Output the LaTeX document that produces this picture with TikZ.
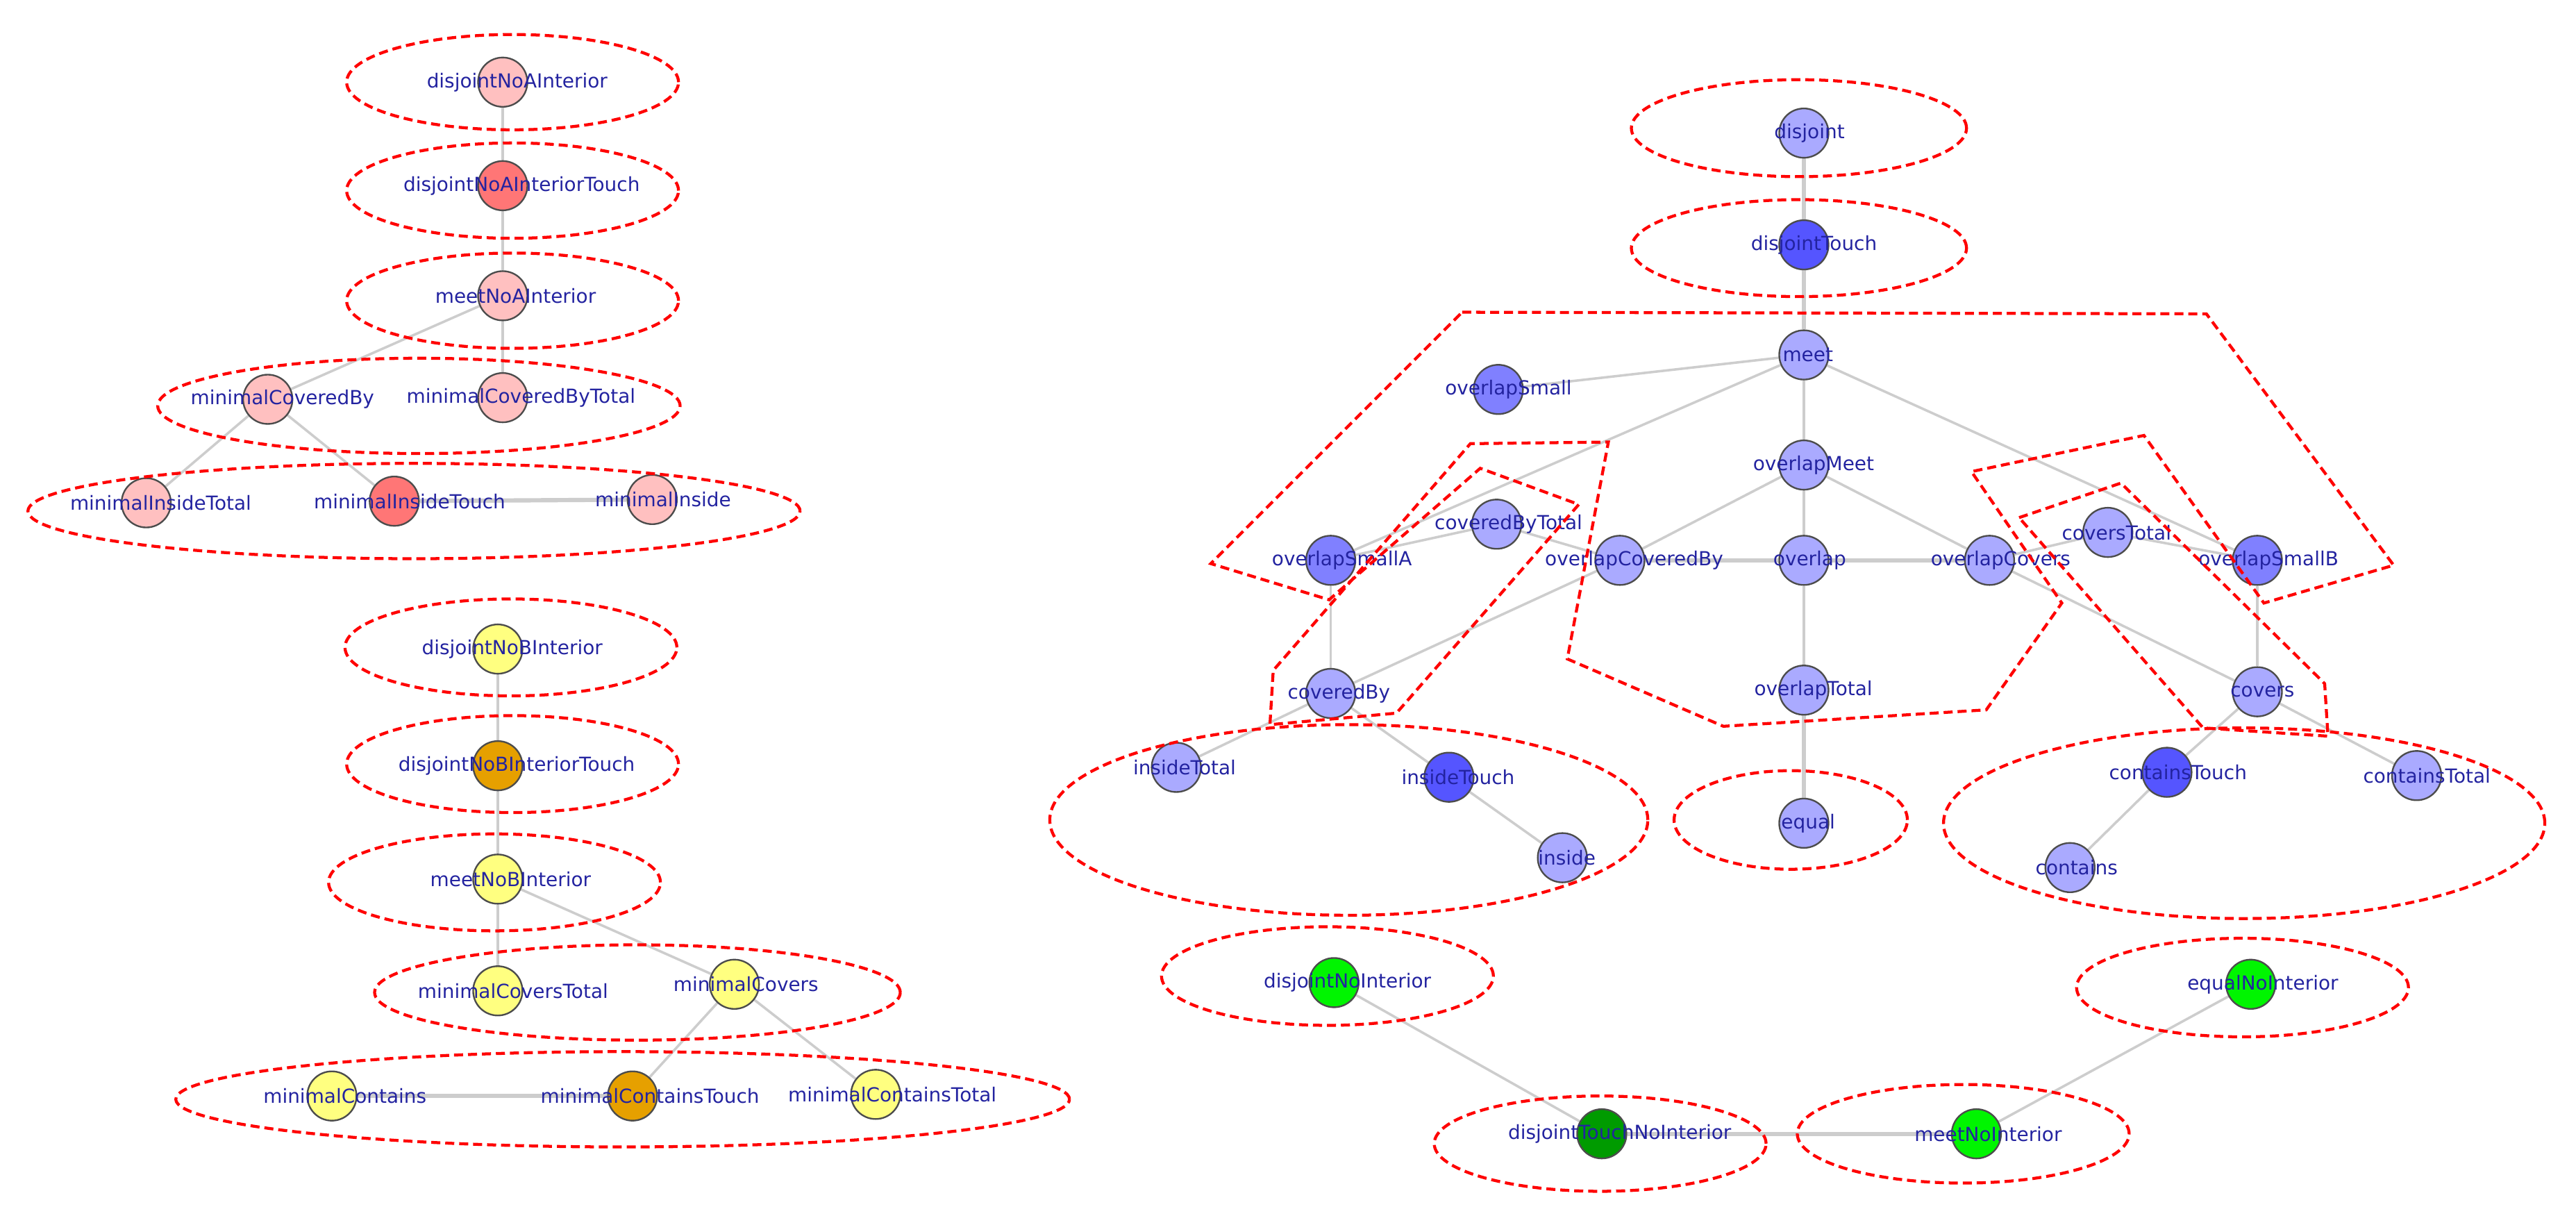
\documentclass[tikz,border=0pt]{standalone}
\usepackage{fontspec}
\setmainfont{DejaVu Sans}
\usepackage{tikz}
\usetikzlibrary{backgrounds}
\definecolor{aLight}{RGB}{255,192,192}
\definecolor{aDark}{RGB}{255,118,118}
\definecolor{bLight}{RGB}{255,255,128}
\definecolor{bDark}{RGB}{230,160,0}
\definecolor{cLight}{RGB}{170,170,255}
\definecolor{cMid}{RGB}{128,128,255}
\definecolor{cDark}{RGB}{85,85,255}
\definecolor{gLight}{RGB}{0,245,0}
\definecolor{gDark}{RGB}{0,155,0}
\definecolor{lblblue}{RGB}{35,35,160}
\definecolor{linkgray}{RGB}{205,205,205}
\tikzstyle{rel} = [circle, draw=black!70, line width=1pt, minimum size=30pt, inner sep=0pt]
\tikzstyle{aL} = [rel, fill=aLight]
\tikzstyle{aD} = [rel, fill=aDark]
\tikzstyle{bL} = [rel, fill=bLight]
\tikzstyle{bD} = [rel, fill=bDark]
\tikzstyle{cL} = [rel, fill=cLight]
\tikzstyle{cM} = [rel, fill=cMid]
\tikzstyle{cD} = [rel, fill=cDark]
\tikzstyle{gL} = [rel, fill=gLight]
\tikzstyle{gD} = [rel, fill=gDark]
\tikzstyle{lbl} = [font=\fontsize{11.8}{14}\selectfont, text=lblblue, inner sep=0pt]
\tikzstyle{link} = [draw=linkgray, line width=1.5pt]
\tikzstyle{dbl} = [draw=linkgray, line width=2.6pt]
\tikzstyle{grp} = [draw=red, line width=1.8pt, dash pattern=on 5.5pt off 3pt]
\newlength{\lblwd}
\newcommand{\lbltext}[1]{\settowidth{\lblwd}{#1}\hspace*{0.16\lblwd}#1}

\begin{document}
\begin{tikzpicture}[x=1pt, y=-1pt]
                    \useasboundingbox (0,0) rectangle (1568,740);
                    % relations without interior of A
                    \node [aL] (disjointNoAInterior) at (306,50) {};
                    \node [aD] (disjointNoAInteriorTouch) at (306,113) {};
                    \node [aL] (meetNoAInterior) at (306,180) {};
                    \node [aL] (minimalCoveredBy) at (163,243) {};
                    \node [aL] (minimalCoveredByTotal) at (306,242) {};
                    \node [aL] (minimalInsideTotal) at (89,306) {};
                    \node [aD] (minimalInsideTouch) at (240,305) {};
                    \node [aL] (minimalInside) at (397,304) {};
                    % relations without interior of B
                    \node [bL] (disjointNoBInterior) at (303,395) {};
                    \node [bD] (disjointNoBInteriorTouch) at (303,466) {};
                    \node [bL] (meetNoBInterior) at (303,535) {};
                    \node [bL] (minimalCoversTotal) at (303,603) {};
                    \node [bL] (minimalCovers) at (447,599) {};
                    \node [bL] (minimalContains) at (202,667) {};
                    \node [bD] (minimalContainsTouch) at (385,667) {};
                    \node [bL] (minimalContainsTotal) at (533,666) {};
                    % relations with both interiors
                    \node [cL] (disjoint) at (1098,81) {};
                    \node [cD] (disjointTouch) at (1098,149) {};
                    \node [cL] (meet) at (1098,216) {};
                    \node [cM] (overlapSmall) at (912,237) {};
                    \node [cL] (overlapMeet) at (1098,283) {};
                    \node [cL] (coveredByTotal) at (911,319) {};
                    \node [cM] (overlapSmallA) at (810,341) {};
                    \node [cL] (overlapCoveredBy) at (986,341) {};
                    \node [cL] (overlap) at (1098,341) {};
                    \node [cL] (overlapCovers) at (1211,341) {};
                    \node [cL] (coversTotal) at (1283,324) {};
                    \node [cM] (overlapSmallB) at (1374,341) {};
                    \node [cL] (coveredBy) at (810,422) {};
                    \node [cL] (overlapTotal) at (1098,420) {};
                    \node [cL] (covers) at (1374,421) {};
                    \node [cL] (insideTotal) at (716,467) {};
                    \node [cD] (insideTouch) at (882,473) {};
                    \node [cL] (inside) at (951,522) {};
                    \node [cL] (equal) at (1098,501) {};
                    \node [cD] (containsTouch) at (1319,470) {};
                    \node [cL] (containsTotal) at (1471,472) {};
                    \node [cL] (contains) at (1260,528) {};
                    % relations without any interior
                    \node [gL] (disjointNoInterior) at (812,598) {};
                    \node [gD] (disjointTouchNoInterior) at (975,690) {};
                    \node [gL] (meetNoInterior) at (1203,690) {};
                    \node [gL] (equalNoInterior) at (1370,599) {};

                    \begin{scope}[on background layer]
                    \draw [link] (disjointNoAInterior) -- (disjointNoAInteriorTouch);
                    \draw [link] (disjointNoAInteriorTouch) -- (meetNoAInterior);
                    \draw [link] (meetNoAInterior) -- (minimalCoveredByTotal);
                    \draw [link] (meetNoAInterior) -- (minimalCoveredBy);
                    \draw [link] (minimalCoveredBy) -- (minimalInsideTotal);
                    \draw [link] (minimalCoveredBy) -- (minimalInsideTouch);
                    \draw [dbl] (minimalInsideTouch) -- (minimalInside);
                    \draw [link] (disjointNoBInterior) -- (disjointNoBInteriorTouch);
                    \draw [link] (disjointNoBInteriorTouch) -- (meetNoBInterior);
                    \draw [link] (meetNoBInterior) -- (minimalCoversTotal);
                    \draw [link] (meetNoBInterior) -- (minimalCovers);
                    \draw [link] (minimalCovers) -- (minimalContainsTouch);
                    \draw [link] (minimalCovers) -- (minimalContainsTotal);
                    \draw [dbl] (minimalContains) -- (minimalContainsTouch);
                    \draw [dbl] (disjoint) -- (disjointTouch);
                    \draw [dbl] (disjointTouch) -- (meet);
                    \draw [link] (meet) -- (overlapSmall);
                    \draw [link] (meet) -- (overlapMeet);
                    \draw [link] (meet) -- (overlapSmallA);
                    \draw [link] (meet) -- (overlapSmallB);
                    \draw [link] (overlapSmallA) -- (coveredByTotal);
                    \draw [link] (coveredByTotal) -- (overlapCoveredBy);
                    \draw [link] (overlapSmallA) -- (coveredBy);
                    \draw [link] (coveredBy) -- (overlapCoveredBy);
                    \draw [link] (overlapMeet) -- (overlapCoveredBy);
                    \draw [link] (overlapMeet) -- (overlap);
                    \draw [link] (overlapMeet) -- (overlapCovers);
                    \draw [dbl] (overlapCoveredBy) -- (overlap);
                    \draw [dbl] (overlap) -- (overlapCovers);
                    \draw [link] (overlap) -- (overlapTotal);
                    \draw [dbl] (overlapTotal) -- (equal);
                    \draw [link] (overlapCovers) -- (coversTotal);
                    \draw [link] (coversTotal) -- (overlapSmallB);
                    \draw [link] (overlapSmallB) -- (covers);
                    \draw [link] (overlapCovers) -- (covers);
                    \draw [link] (coveredBy) -- (insideTotal);
                    \draw [link] (coveredBy) -- (insideTouch);
                    \draw [link] (insideTouch) -- (inside);
                    \draw [link] (covers) -- (containsTouch);
                    \draw [link] (covers) -- (containsTotal);
                    \draw [link] (containsTouch) -- (contains);
                    \draw [link] (disjointNoInterior) -- (disjointTouchNoInterior);
                    \draw [dbl] (disjointTouchNoInterior) -- (meetNoInterior);
                    \draw [link] (meetNoInterior) -- (equalNoInterior);
                    \end{scope}

                    % labels
                    \node [lbl] (disjointNoAInteriorL) at (disjointNoAInterior) {\lbltext{disjointNoAInterior}};
                    \node [lbl] (disjointNoAInteriorTouchL) at (disjointNoAInteriorTouch) {\lbltext{disjointNoAInteriorTouch}};
                    \node [lbl] (meetNoAInteriorL) at (meetNoAInterior) {\lbltext{meetNoAInterior}};
                    \node [lbl] (minimalCoveredByL) at (minimalCoveredBy) {\lbltext{minimalCoveredBy}};
                    \node [lbl] (minimalCoveredByTotalL) at (minimalCoveredByTotal) {\lbltext{minimalCoveredByTotal}};
                    \node [lbl] (minimalInsideTotalL) at (minimalInsideTotal) {\lbltext{minimalInsideTotal}};
                    \node [lbl] (minimalInsideTouchL) at (minimalInsideTouch) {\lbltext{minimalInsideTouch}};
                    \node [lbl] (minimalInsideL) at (minimalInside) {\lbltext{minimalInside}};
                    \node [lbl] (disjointNoBInteriorL) at (disjointNoBInterior) {\lbltext{disjointNoBInterior}};
                    \node [lbl] (disjointNoBInteriorTouchL) at (disjointNoBInteriorTouch) {\lbltext{disjointNoBInteriorTouch}};
                    \node [lbl] (meetNoBInteriorL) at (meetNoBInterior) {\lbltext{meetNoBInterior}};
                    \node [lbl] (minimalCoversTotalL) at (minimalCoversTotal) {\lbltext{minimalCoversTotal}};
                    \node [lbl] (minimalCoversL) at (minimalCovers) {\lbltext{minimalCovers}};
                    \node [lbl] (minimalContainsL) at (minimalContains) {\lbltext{minimalContains}};
                    \node [lbl] (minimalContainsTouchL) at (minimalContainsTouch) {\lbltext{minimalContainsTouch}};
                    \node [lbl] (minimalContainsTotalL) at (minimalContainsTotal) {\lbltext{minimalContainsTotal}};
                    \node [lbl] (disjointL) at (disjoint) {\lbltext{disjoint}};
                    \node [lbl] (disjointTouchL) at (disjointTouch) {\lbltext{disjointTouch}};
                    \node [lbl] (meetL) at (meet) {\lbltext{meet}};
                    \node [lbl] (overlapSmallL) at (overlapSmall) {\lbltext{overlapSmall}};
                    \node [lbl] (overlapMeetL) at (overlapMeet) {\lbltext{overlapMeet}};
                    \node [lbl] (coveredByTotalL) at (coveredByTotal) {\lbltext{coveredByTotal}};
                    \node [lbl] (overlapSmallAL) at (overlapSmallA) {\lbltext{overlapSmallA}};
                    \node [lbl] (overlapCoveredByL) at (overlapCoveredBy) {\lbltext{overlapCoveredBy}};
                    \node [lbl] (overlapL) at (overlap) {\lbltext{overlap}};
                    \node [lbl] (overlapCoversL) at (overlapCovers) {\lbltext{overlapCovers}};
                    \node [lbl] (coversTotalL) at (coversTotal) {\lbltext{coversTotal}};
                    \node [lbl] (overlapSmallBL) at (overlapSmallB) {\lbltext{overlapSmallB}};
                    \node [lbl] (coveredByL) at (coveredBy) {\lbltext{coveredBy}};
                    \node [lbl] (overlapTotalL) at (overlapTotal) {\lbltext{overlapTotal}};
                    \node [lbl] (coversL) at (covers) {\lbltext{covers}};
                    \node [lbl] (insideTotalL) at (insideTotal) {\lbltext{insideTotal}};
                    \node [lbl] (insideTouchL) at (insideTouch) {\lbltext{insideTouch}};
                    \node [lbl] (insideL) at (inside) {\lbltext{inside}};
                    \node [lbl] (equalL) at (equal) {\lbltext{equal}};
                    \node [lbl] (containsTouchL) at (containsTouch) {\lbltext{containsTouch}};
                    \node [lbl] (containsTotalL) at (containsTotal) {\lbltext{containsTotal}};
                    \node [lbl] (containsL) at (contains) {\lbltext{contains}};
                    \node [lbl] (disjointNoInteriorL) at (disjointNoInterior) {\lbltext{disjointNoInterior}};
                    \node [lbl] (disjointTouchNoInteriorL) at (disjointTouchNoInterior) {\lbltext{disjointTouchNoInterior}};
                    \node [lbl] (meetNoInteriorL) at (meetNoInterior) {\lbltext{meetNoInterior}};
                    \node [lbl] (equalNoInteriorL) at (equalNoInterior) {\lbltext{equalNoInterior}};

                    % dashed groups
                    \draw [grp] (312,50) ellipse [x radius=101pt, y radius=29pt];
                    \draw [grp] (312,116) ellipse [x radius=101pt, y radius=29pt];
                    \draw [grp] (312,183) ellipse [x radius=101pt, y radius=29pt];
                    \draw [grp] (255,247) ellipse [x radius=159pt, y radius=29pt];
                    \draw [grp] (252,311) ellipse [x radius=235pt, y radius=29pt];
                    \draw [grp] (311,394) ellipse [x radius=101pt, y radius=29.5pt];
                    \draw [grp] (312,465) ellipse [x radius=101pt, y radius=29.5pt];
                    \draw [grp] (301,537) ellipse [x radius=101pt, y radius=29.5pt];
                    \draw [grp] (388,604) ellipse [x radius=160pt, y radius=29pt];
                    \draw [grp] (379,669) ellipse [x radius=272pt, y radius=29pt];
                    \draw [grp] (1095,78) ellipse [x radius=102pt, y radius=29.5pt];
                    \draw [grp] (1095,151) ellipse [x radius=102pt, y radius=29.5pt];
                    \draw [grp] (821,499) ellipse [x radius=182pt, y radius=58pt];
                    \draw [grp] (1090,499) ellipse [x radius=71pt, y radius=30pt];
                    \draw [grp] (1366,501) ellipse [x radius=183pt, y radius=58pt];
                    \draw [grp] (808,594) ellipse [x radius=101pt, y radius=30pt];
                    \draw [grp] (974,696) ellipse [x radius=101pt, y radius=29pt];
                    \draw [grp] (1195,690) ellipse [x radius=101pt, y radius=30pt];
                    \draw [grp] (1365,601) ellipse [x radius=101pt, y radius=30pt];
                    \draw [grp] (890,190) -- (1343,191) -- (1457,344) -- (1378,367) -- (1305,265)
                        -- (1200,287) -- (1255,367) -- (1209,432) -- (1049,442) -- (954,401)
                        -- (979,269) -- (895,270) -- (775,408) -- (773,441) -- (850,434)
                        -- (961,307) -- (901,285) -- (809,365) -- (737,343) -- cycle;
                    \draw [grp] (1229,315) -- (1291,294) -- (1415,416) -- (1417,448) -- (1341,443) -- cycle;
                \end{tikzpicture}
\end{document}
